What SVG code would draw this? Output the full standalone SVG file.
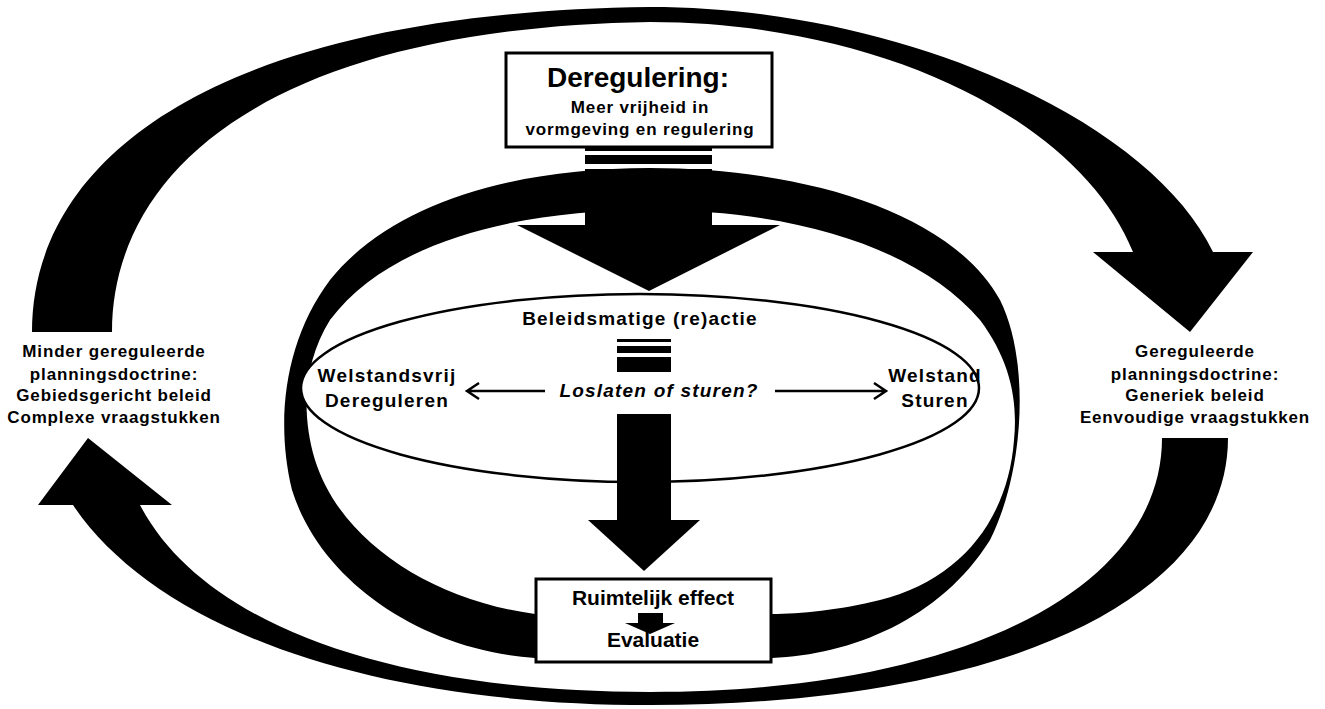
<svg xmlns="http://www.w3.org/2000/svg" width="1325" height="709" viewBox="0 0 1325 709">
<style>
text{font-family:"Liberation Sans",Arial,sans-serif;font-weight:bold;fill:#000;text-anchor:middle}
.s17{font-size:17px;letter-spacing:0.85px}
.s19{font-size:19px;letter-spacing:1.2px}
.s21{font-size:21px}
.blk{fill:#000;stroke:none}
.box{fill:#fff;stroke:#000;stroke-width:3}
.thin{fill:none;stroke:#000;stroke-width:2.5}
</style>
<rect width="1325" height="709" fill="#fff"/>
<g id="connectors">
<path id="outer-top-arrow" class="blk" d="M32,332 C32,150 230,12 650,7 C900,7 1150,120 1213,252 L1253,252 L1190,332 L1093,252 L1133,252 C1080,120 880,22 650,22 C270,28 112,170 112,332 Z"/>
<path id="outer-bottom-arrow" class="blk" d="M1228,438 C1228,600 1000,705 650,705 C350,705 150,620 73,505 L38,505 L88,438 L172,505 L140,505 C200,620 380,692 650,692 C960,692 1162,590 1162,438 Z"/>
<path id="middle-ring" class="blk" fill-rule="evenodd" d="M650,168 C800,168 950,210 1000,300 C1030,360 1025,470 990,540 C940,620 850,655 772,658 L535,658 C420,650 320,580 292,490 C275,420 285,340 330,280 C390,205 510,168 650,168 Z M650,210 C800,210 920,250 980,320 C1010,360 1018,400 1014,440 C1008,520 960,580 880,600 C840,610 800,614 772,614 L535,614 C430,600 340,540 315,460 C300,410 305,360 330,320 C390,240 520,210 650,210 Z"/>
<g id="top-down-arrow">
<rect class="blk" x="585" y="148" width="127" height="3"/>
<rect class="blk" x="585" y="155" width="127" height="9"/>
<rect class="blk" x="585" y="169" width="127" height="57"/>
<polygon class="blk" points="517,225 780,225 649,291"/>
</g>
</g>
<g id="ellipse-node">
<ellipse cx="640" cy="388" rx="339" ry="94" fill="#fff" stroke="#000" stroke-width="2.5"/>
<text class="s19" x="640" y="325">Beleidsmatige (re)actie</text>
<text class="s19" x="387" y="382">Welstandsvrij</text>
<text class="s19" x="387" y="407">Dereguleren</text>
<text class="s19" x="935" y="382">Welstand</text>
<text class="s19" x="935" y="407">Sturen</text>
<text class="s19" x="659" y="397" font-style="italic">Loslaten of sturen?</text>
</g>
<g id="inner-connectors">
<rect class="blk" x="617" y="339" width="54" height="3"/>
<rect class="blk" x="617" y="346" width="54" height="7"/>
<rect class="blk" x="617" y="357" width="54" height="15"/>
<rect class="blk" x="617" y="414" width="54" height="107"/>
<polygon class="blk" points="588,520 700,520 644,571"/>
<path class="thin" d="M545,391 H468 M479,383 L467,391 L479,399"/>
<path class="thin" d="M775,391 H885 M874,383 L886,391 L874,399"/>
</g>
<g id="top-box">
<rect class="box" x="506" y="53" width="266" height="94"/>
<text x="638" y="87" font-size="28">Deregulering:</text>
<text class="s17" x="640" y="113">Meer vrijheid in</text>
<text class="s17" x="640" y="135">vormgeving en regulering</text>
</g>
<g id="bottom-box">
<rect class="box" x="536" y="579" width="235" height="83"/>
<text class="s21" x="653" y="605">Ruimtelijk effect</text>
<rect class="blk" x="638" y="613" width="25" height="10"/>
<polygon class="blk" points="625,623 675,623 650,634"/>
<text class="s21" x="653" y="647">Evaluatie</text>
</g>
<g id="left-label">
<text class="s17" x="114" y="357">Minder gereguleerde</text>
<text class="s17" x="114" y="380">planningsdoctrine:</text>
<text class="s17" x="114" y="401">Gebiedsgericht beleid</text>
<text class="s17" x="114" y="423">Complexe vraagstukken</text>
</g>
<g id="right-label">
<text class="s17" x="1195" y="357">Gereguleerde</text>
<text class="s17" x="1195" y="380">planningsdoctrine:</text>
<text class="s17" x="1195" y="401">Generiek beleid</text>
<text class="s17" x="1195" y="423">Eenvoudige vraagstukken</text>
</g>
</svg>
